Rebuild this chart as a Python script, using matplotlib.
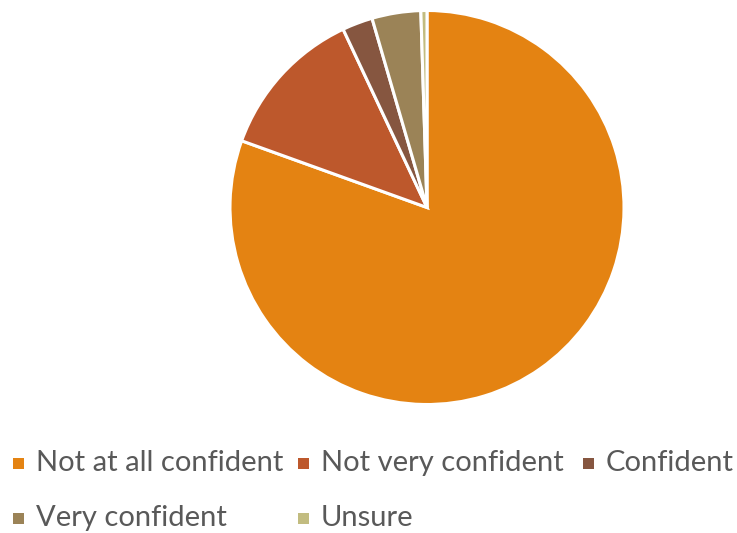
import matplotlib.pyplot as plt
from matplotlib.patches import Rectangle

categories = ["Not at all confident", "Not very confident", "Confident",
              "Very confident", "Unsure"]
shares = [80.5, 12.5, 2.5, 4.0, 0.5]
colors = ["#E48312", "#BD582C", "#865640", "#9B8357", "#C2BC80"]

W, H = 737, 533
fig = plt.figure(figsize=(W / 100, H / 100), dpi=100)

# pie axes: centre (427, 207.5) px, radius 197 px
cx, cy, r = 427, 207.5, 197
ax = fig.add_axes([(cx - r) / W, (H - cy - r) / H, 2 * r / W, 2 * r / H])
ax.pie(shares, colors=colors, startangle=90, counterclock=False,
       wedgeprops=dict(edgecolor="white", linewidth=2.2))
ax.set_xlim(-1, 1)
ax.set_ylim(-1, 1)
ax.set_aspect("auto")
ax.axis("off")

# legend laid out row by row, three per row
col_x = [13, 298, 583]
row_y = [463, 518]
for i, (lab, col) in enumerate(zip(categories, colors)):
    x = col_x[i % 3]
    y = row_y[i // 3]
    fig.patches.append(Rectangle((x / W, (H - y - 5.5) / H), 11 / W, 11 / H,
                                 transform=fig.transFigure, facecolor=col,
                                 edgecolor="none"))
    fig.text((x + 23) / W, (H - y) / H, lab, ha="left", va="center",
             fontsize=21, color="#595959", family="Lato")

fig.savefig("out.png", dpi=100)
